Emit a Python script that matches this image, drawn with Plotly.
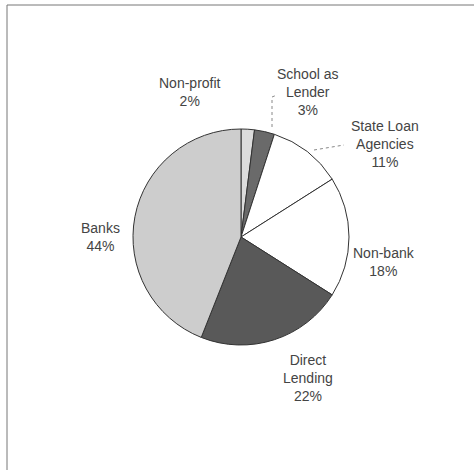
import plotly.graph_objects as go

# Share of loan volume by lender type
lenders = ["Non-profit", "School as Lender", "State Loan Agencies", "Non-bank", "Direct Lending", "Banks"]
shares = [2, 3, 11, 18, 22, 44]
label_text = ["Non-profit<br>2%", "School as<br>Lender<br>3%", "State Loan<br>Agencies<br>11%",
              "Non-bank<br>18%", "Direct<br>Lending<br>22%", "Banks<br>44%"]
slice_colors = ["#dcdcdc", "#6a6a6a", "#ffffff", "#ffffff", "#595959", "#cdcdcd"]

W, H = 474, 470
cx, cy, r = 241, 237, 108


def px(x):
    return x / W


def py(y):
    return 1 - y / H


fig = go.Figure(go.Pie(
    labels=lenders,
    values=shares,
    sort=False,
    direction="clockwise",
    rotation=0,
    textinfo="none",
    hoverinfo="label+percent",
    marker=dict(colors=slice_colors, line=dict(color="#333333", width=1)),
    domain=dict(x=[px(cx - r), px(cx + r)], y=[py(cy + r), py(cy - r)]),
    showlegend=False,
))

# label anchor points (pixel centres of each text block)
label_pos = [(190, 92), (307, 92), (385, 144), (384, 262), (308, 378), (100, 237)]
for txt, (lx, ly) in zip(label_text, label_pos):
    fig.add_annotation(x=px(lx), y=py(ly), xref="paper", yref="paper", text=txt,
                       showarrow=False, align="center", xanchor="center", yanchor="middle",
                       font=dict(family="Liberation Sans, Arial", size=14, color="#444444"))

leader = dict(color="#888888", width=1, dash="dot")
fig.add_shape(type="path", xref="paper", yref="paper",
              path=f"M {px(272)} {py(127)} L {px(272)} {py(97)} L {px(277)} {py(95)}", line=leader)
fig.add_shape(type="line", xref="paper", yref="paper",
              x0=px(314), y0=py(150), x1=px(344), y1=py(145), line=leader)

# outer chart frame
fig.add_shape(type="rect", xref="paper", yref="paper",
              x0=px(7), y0=py(480), x1=px(490), y1=py(5),
              line=dict(color="#777777", width=1))

fig.update_layout(width=W, height=H, margin=dict(l=0, r=0, t=0, b=0),
                  paper_bgcolor="white", plot_bgcolor="white")
fig.write_html("out.html")
